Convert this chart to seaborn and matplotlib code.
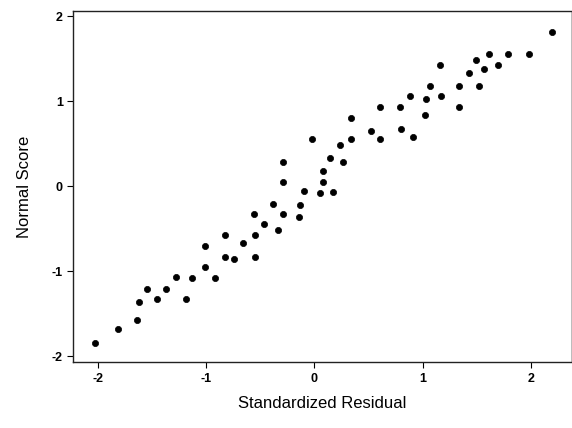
import seaborn as sns
import pandas as pd
import matplotlib.pyplot as plt

# standardized residuals vs normal scores
residual = [2.20, 1.98, 1.79, 1.61, 1.70, 1.49, 1.57, 1.43, 1.52, 1.34,
            1.34, 1.16, 1.17, 1.07, 1.03, 1.02, 0.88, 0.79, 0.61, 0.80,
            0.91, 0.52, 0.61, 0.34, 0.34, 0.24, 0.26, 0.14, 0.08, 0.08,
            -0.02, -0.10, 0.05, 0.17, -0.29, -0.29,
            -0.38, -0.13, -0.29, -0.14, -0.56, -0.47, -0.34, -0.83, -0.55, -0.66,
            -1.01, -0.83, -0.74, -0.55, -1.01, -1.13, -0.92, -1.28, -1.37, -1.55,
            -1.46, -1.19, -1.62, -1.64, -1.82, -2.03]
normal_score = [1.81, 1.56, 1.56, 1.56, 1.43, 1.48, 1.38, 1.33, 1.18, 1.18,
                0.93, 1.43, 1.06, 1.18, 1.03, 0.84, 1.06, 0.93, 0.93, 0.67,
                0.58, 0.65, 0.55, 0.80, 0.55, 0.49, 0.29, 0.33, 0.18, 0.05,
                0.55, -0.06, -0.08, -0.07, 0.29, 0.05,
                -0.21, -0.22, -0.33, -0.36, -0.33, -0.45, -0.51, -0.58, -0.58, -0.67,
                -0.70, -0.83, -0.86, -0.83, -0.95, -1.08, -1.08, -1.07, -1.21, -1.21,
                -1.33, -1.33, -1.36, -1.58, -1.68, -1.84]

df = pd.DataFrame({'Standardized Residual': residual, 'Normal Score': normal_score})

sns.set_style('ticks')
plt.rcParams['font.family'] = ['Liberation Sans', 'DejaVu Sans']
plt.rcParams['axes.unicode_minus'] = False
plt.rcParams['text.color'] = 'black'
plt.rcParams['axes.labelcolor'] = 'black'
plt.rcParams['xtick.color'] = 'black'
plt.rcParams['ytick.color'] = 'black'

fig = plt.figure(figsize=(5.72, 4.28), dpi=100)
ax = fig.add_axes([0.128, 0.154, 0.87, 0.82])
sns.scatterplot(data=df, x='Standardized Residual', y='Normal Score', ax=ax,
                color='black', marker='o', s=20, edgecolor='black', linewidth=0.5)

ax.set_xlim(-2.23, 2.37)
ax.set_ylim(-2.07, 2.06)
ax.set_xticks([-2, -1, 0, 1, 2])
ax.set_yticks([-2, -1, 0, 1, 2])
ax.tick_params(axis='both', length=4, width=0.8, colors='black', labelsize=9)
for lbl in ax.get_xticklabels() + ax.get_yticklabels():
    lbl.set_fontweight('bold')

for side in ['left', 'bottom', 'top']:
    ax.spines[side].set_color('#222222')
    ax.spines[side].set_linewidth(1.0)
ax.spines['right'].set_color('#bbbbbb')
ax.spines['right'].set_linewidth(0.7)

ax.set_xlabel('Standardized Residual', fontsize=12, labelpad=8)
ax.set_ylabel('Normal Score', fontsize=12, labelpad=14)

fig.savefig('out.png', dpi=100)
